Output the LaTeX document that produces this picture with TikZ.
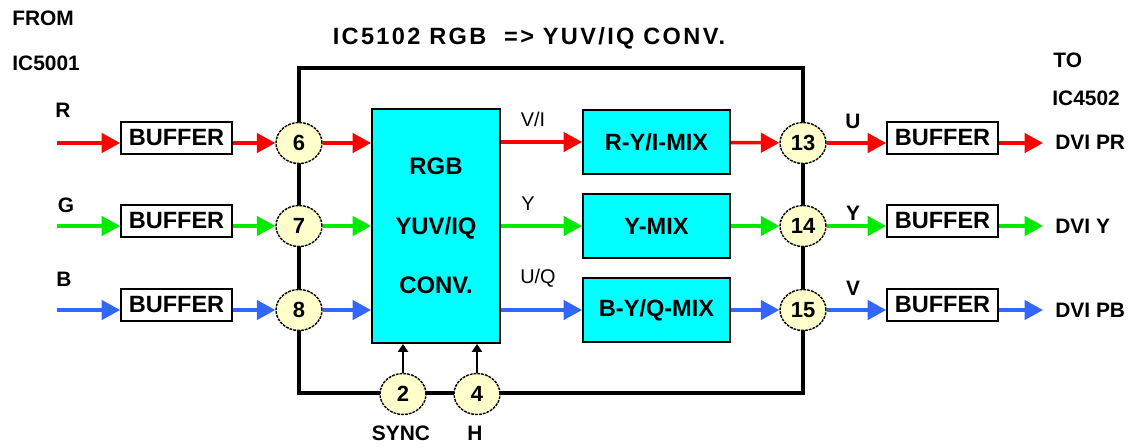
\documentclass[tikz,border=0pt]{standalone}
\usepackage{fontspec}
\setmainfont{Liberation Sans}
\usetikzlibrary{arrows.meta, shapes.geometric}
\definecolor{sigred}{RGB}{255,0,0}
\definecolor{siggreen}{RGB}{0,235,0}
\definecolor{sigblue}{RGB}{51,102,255}
\definecolor{pinfill}{RGB}{255,255,204}
\definecolor{boxcyan}{RGB}{0,255,255}

\begin{document}
\begin{tikzpicture}[x=0.02cm, y=-0.02cm,
  lab/.style={font=\fontsize{11.9}{13}\selectfont\bfseries, inner sep=0pt},
  sub/.style={font=\fontsize{11.3}{13}\selectfont, inner sep=0pt},
  ttl/.style={font=\fontsize{13.4}{16}\selectfont\bfseries\addfontfeatures{LetterSpace=10}, inner sep=0pt},
  buf/.style={draw, line width=1pt, fill=white, minimum width=2.22cm, minimum height=0.64cm, inner sep=0pt, font=\fontsize{13.4}{15}\selectfont\bfseries},
  mix/.style={draw, line width=1.1pt, fill=boxcyan, minimum width=2.94cm, minimum height=1.28cm, inner sep=0pt, font=\fontsize{13.4}{15}\selectfont\bfseries},
  pin/.style={ellipse, draw, dash pattern=on 1.6pt off 0.6pt, line width=0.8pt, fill=pinfill, minimum width=0.92cm, minimum height=0.82cm, inner sep=0pt, font=\fontsize{12.5}{14}\selectfont\bfseries},
  sig/.style={line width=2pt, -{Triangle[length=10.5pt, width=11pt]}},
  ctl/.style={line width=1.2pt, -{Triangle[length=4.5pt, width=5.7pt]}},
  frame/.style={line width=2pt}]
  \useasboundingbox (0,0) rectangle (1135,447);
  \draw[frame] (299,68) rectangle (803,393);
  % texts
  \node[lab, anchor=west] (from) at (12,18) {FROM};
  \node[lab, anchor=west] (src) at (12,63) {IC5001};
  \node[ttl] (title) at (529,38) {IC5102 RGB\ \ => YUV/IQ CONV.};
  \node[lab, anchor=west] (to) at (1053,60) {TO};
  \node[lab, anchor=west] (dst) at (1052,98) {IC4502};
  \node[lab] (labR) at (63,110) {R};
  \node[lab] (labG) at (66,205) {G};
  \node[lab] (labB) at (64,279) {B};
  % inputs
  \coordinate (inR) at (57,143);
  \coordinate (inG) at (57,226);
  \coordinate (inB) at (57,310);
  \node[buf] (bufR) at (176.5,138) {BUFFER};
  \node[buf] (bufG) at (176.5,221) {BUFFER};
  \node[buf] (bufB) at (176.5,305) {BUFFER};
  \node[pin] (p6) at (299,143) {6};
  \node[pin] (p7) at (299,226) {7};
  \node[pin] (p8) at (299,310) {8};
  \node[mix, minimum width=2.56cm, minimum height=4.68cm, align=center, font=\fontsize{13.6}{34}\selectfont\bfseries] (conv) at (436,226) {RGB\\YUV/IQ\\CONV.};
  \node[mix] (mixR) at (656.5,142) {R-Y/I-MIX};
  \node[mix] (mixY) at (656.5,226) {Y-MIX};
  \node[mix] (mixB) at (656.5,310) {B-Y/Q-MIX};
  \node[sub] (vi) at (533,119) {V/I};
  \node[sub] (yy) at (528,204) {Y};
  \node[sub] (uq) at (538,278) {U/Q};
  \node[pin] (p13) at (803,143) {13};
  \node[pin] (p14) at (803,226) {14};
  \node[pin] (p15) at (803,310) {15};
  \node[pin] (p2) at (403,394) {2};
  \node[pin] (p4) at (477,394) {4};
  \node[lab] (sync) at (401,433) {SYNC};
  \node[lab] (hor) at (475,433) {H};
  % outputs
  \node[buf] (obufR) at (942.5,138) {BUFFER};
  \node[buf] (obufG) at (942.5,221) {BUFFER};
  \node[buf] (obufB) at (942.5,305) {BUFFER};
  \coordinate (outR) at (1043,143);
  \coordinate (outG) at (1043,226);
  \coordinate (outB) at (1043,310);
  \node[lab] (labU) at (853,121) {U};
  \node[lab] (labY) at (853,213) {Y};
  \node[lab] (labV) at (853,288) {V};
  \node[lab, anchor=west] (dviR) at (1055,142) {DVI PR};
  \node[lab, anchor=west] (dviY) at (1055,226) {DVI Y};
  \node[lab, anchor=west] (dviB) at (1055,310) {DVI PB};
  % signal paths
  \draw[sig, sigred] (inR) -- (inR -| bufR.west);
  \draw[sig, sigred] (bufR.east |- p6) -- (p6);
  \draw[sig, sigred] (p6) -- (p6 -| conv.west);
  \draw[sig, sigred] (conv.east |- mixR) -- (mixR);
  \draw[sig, sigred] (mixR) -- (p13);
  \draw[sig, sigred] (p13) -- (p13 -| obufR.west);
  \draw[sig, sigred] (obufR.east |- outR) -- (outR);
  \draw[sig, siggreen] (inG) -- (inG -| bufG.west);
  \draw[sig, siggreen] (bufG.east |- p7) -- (p7);
  \draw[sig, siggreen] (p7) -- (p7 -| conv.west);
  \draw[sig, siggreen] (conv.east |- mixY) -- (mixY);
  \draw[sig, siggreen] (mixY) -- (p14);
  \draw[sig, siggreen] (p14) -- (p14 -| obufG.west);
  \draw[sig, siggreen] (obufG.east |- outG) -- (outG);
  \draw[sig, sigblue] (inB) -- (inB -| bufB.west);
  \draw[sig, sigblue] (bufB.east |- p8) -- (p8);
  \draw[sig, sigblue] (p8) -- (p8 -| conv.west);
  \draw[sig, sigblue] (conv.east |- mixB) -- (mixB);
  \draw[sig, sigblue] (mixB) -- (p15);
  \draw[sig, sigblue] (p15) -- (p15 -| obufB.west);
  \draw[sig, sigblue] (obufB.east |- outB) -- (outB);
  \draw[ctl] (p2) -- (p2 |- conv.south);
  \draw[ctl] (p4) -- (p4 |- conv.south);
\end{tikzpicture}
\end{document}
